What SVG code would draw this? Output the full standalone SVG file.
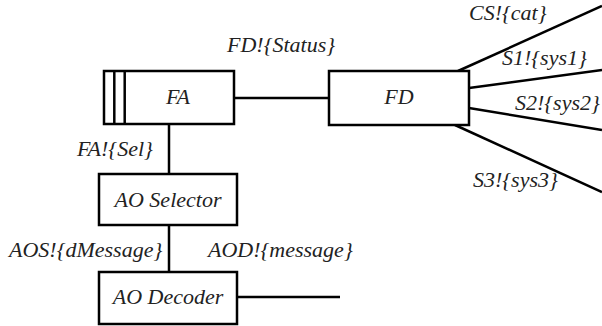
<svg xmlns="http://www.w3.org/2000/svg" width="602" height="326" viewBox="0 0 602 326">
<style>
.box{fill:#fff;stroke:#000;stroke-width:2.5}
.ln{stroke:#000;stroke-width:2.5;fill:none}
.t{font-family:"Liberation Serif",serif;font-style:italic;font-size:22px;fill:#222}
.c{text-anchor:middle}
</style>
<rect width="602" height="326" fill="#fff"/>
<g id="connectors">
<line class="ln" x1="234" y1="98" x2="329" y2="98"/>
<line class="ln" x1="169" y1="124" x2="169" y2="174"/>
<line class="ln" x1="169" y1="225" x2="169" y2="272"/>
<line class="ln" x1="237" y1="297" x2="340" y2="297"/>
<line class="ln" x1="458" y1="71" x2="602" y2="6"/>
<line class="ln" x1="469" y1="88" x2="602" y2="70"/>
<line class="ln" x1="469" y1="108" x2="602" y2="130"/>
<line class="ln" x1="455" y1="125" x2="602" y2="192"/>
<text class="t" x="227" y="52">FD!{Status}</text>
<text class="t" x="77" y="156">FA!{Sel}</text>
<text class="t" x="9" y="257">AOS!{dMessage}</text>
<text class="t" x="208" y="257">AOD!{message}</text>
<text class="t" x="469" y="20">CS!{cat}</text>
<text class="t" x="502" y="65">S1!{sys1}</text>
<text class="t" x="515" y="110">S2!{sys2}</text>
<text class="t" x="473" y="187">S3!{sys3}</text>
</g>
<g id="FA">
<rect class="box" x="104" y="71" width="130" height="53"/>
<line class="ln" x1="114.3" y1="71" x2="114.3" y2="124"/>
<line class="ln" x1="124.7" y1="71" x2="124.7" y2="124"/>
<text class="t c" x="178" y="104">FA</text>
</g>
<g id="FD">
<rect class="box" x="329" y="71" width="140" height="54"/>
<text class="t c" x="399" y="104">FD</text>
</g>
<g id="AOSelector">
<rect class="box" x="99" y="174" width="138" height="51"/>
<text class="t c" x="168" y="207">AO Selector</text>
</g>
<g id="AODecoder">
<rect class="box" x="99" y="272" width="138" height="52"/>
<text class="t c" x="168" y="304">AO Decoder</text>
</g>
</svg>
